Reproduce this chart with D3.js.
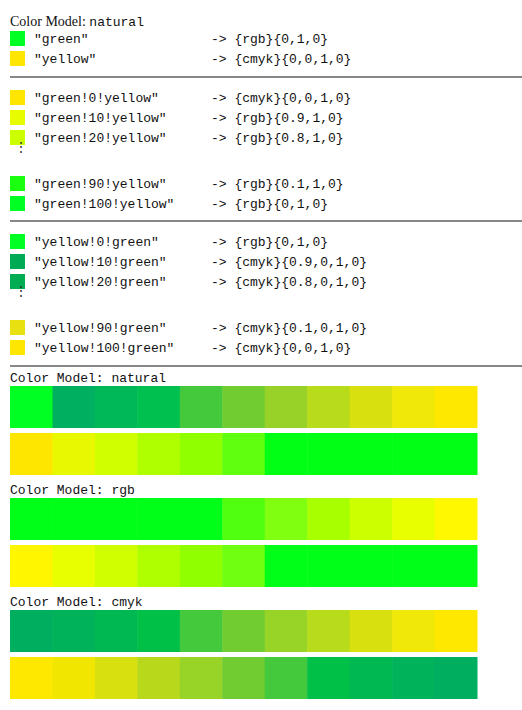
<!DOCTYPE html>
<html><head><meta charset="utf-8">
<script src="https://cdn.jsdelivr.net/npm/d3@7"></script>
<style>body{margin:0;background:#fff}</style>
</head><body>
<svg id="c" width="522" height="710"></svg>
<script>
// top listing: [name, spec, swatch]
const baseRows = [["\"green\"", "{rgb}{0,1,0}", "#00ff22"], ["\"yellow\"", "{cmyk}{0,0,1,0}", "#ffe600"]];
const gyRows = [["\"green!0!yellow\"", "{cmyk}{0,0,1,0}", "#ffe600"], ["\"green!10!yellow\"", "{rgb}{0.9,1,0}", "#e8fc00"],
  ["\"green!20!yellow\"", "{rgb}{0.8,1,0}", "#ccff00"], null,
  ["\"green!90!yellow\"", "{rgb}{0.1,1,0}", "#1aff10"], ["\"green!100!yellow\"", "{rgb}{0,1,0}", "#00ff22"]];
const ygRows = [["\"yellow!0!green\"", "{rgb}{0,1,0}", "#00ff22"], ["\"yellow!10!green\"", "{cmyk}{0.9,0,1,0}", "#00aa55"],
  ["\"yellow!20!green\"", "{cmyk}{0.8,0,1,0}", "#00ad52"], null,
  ["\"yellow!90!green\"", "{cmyk}{0.1,0,1,0}", "#e8e010"], ["\"yellow!100!green\"", "{cmyk}{0,0,1,0}", "#ffe600"]];

const steps = d3.range(11);
const naturalA = ["#00ff22","#00b060","#00b858","#00c050","#44c83c","#70cc30","#98d228","#b8dc1c","#d8e010","#f0e808","#ffe800"];
const naturalB = ["#ffe600","#e8f800","#d0ff00","#b0ff00","#90ff00","#60ff10","#00ff14","#00ff14","#00ff14","#00ff14","#00ff14"];
const rgbA = ["#00ff18","#00ff18","#00ff18","#00ff18","#00ff18","#50ff10","#80ff10","#a8ff00","#ccff00","#e8ff00","#fff800"];
const rgbB = ["#fff600","#e8ff00","#d0ff00","#b0ff00","#90ff00","#70ff10","#00ff18","#00ff18","#00ff18","#00ff18","#00ff18"];
const cmykA = ["#00ae60","#00b25a","#00b852","#00c048","#44c83c","#70cc30","#98d428","#b8dc1c","#d8e010","#f0e808","#ffe800"];
const cmykB = ["#ffe800","#f0e600","#d8e010","#b8d81c","#98d428","#70cc30","#44c83c","#00c048","#00b852","#00b25a","#00ae60"];
const strips = [["natural", naturalA, naturalB], ["rgb", rgbA, rgbB], ["cmyk", cmykA, cmykB]];

const svg = d3.select("#c");
const mono = "'Liberation Mono', 'DejaVu Sans Mono', monospace";
const serif = "'Liberation Serif', 'DejaVu Serif', serif";

const head = svg.append("text").attr("x", 10).attr("y", 26).attr("font-size", 14).attr("fill", "#111");
head.append("tspan").attr("font-family", serif).text("Color Model: ");
head.append("tspan").attr("font-family", mono).attr("font-size", 13).text("natural");

function listing(rows, y0, gap) {
  let y = y0;
  rows.forEach(r => {
    if (r === null) {
      svg.append("text").attr("x", 14).attr("y", y - 6).attr("font-family", serif)
        .attr("font-size", 14).attr("fill", "#333").text("⋮");
      y += gap * 1.3;
      return;
    }
    svg.append("rect").attr("x", 10).attr("y", y - 8).attr("width", 15).attr("height", 15).attr("fill", r[2]);
    svg.append("text").attr("x", 34).attr("y", y + 4).attr("font-family", mono).attr("font-size", 13).attr("fill", "#111").text(r[0]);
    svg.append("text").attr("x", 211).attr("y", y + 4).attr("font-family", mono).attr("font-size", 13).attr("fill", "#111").text("-> " + r[1]);
    y += gap;
  });
}
listing(baseRows, 39, 20);
listing(gyRows, 98, 20);
listing(ygRows, 242, 20);
[77, 221, 366].forEach(y => svg.append("line").attr("x1", 10).attr("x2", 522).attr("y1", y).attr("y2", y).attr("stroke", "#111").attr("stroke-width", 1.2));

const x = d3.scaleBand().domain(steps).range([10, 477]).paddingInner(0);
const tops = [386, 498, 610];
strips.forEach((s, i) => {
  const t = tops[i];
  svg.append("text").attr("x", 10).attr("y", t - 4).attr("font-family", mono).attr("font-size", 13).attr("fill", "#111")
    .text("Color Model:  " + s[0]);
  [s[1], s[2]].forEach((cols, j) => {
    svg.append("g").selectAll("rect").data(steps).join("rect")
      .attr("x", d => x(d)).attr("y", t + j * 47).attr("width", x.bandwidth() + 0.5).attr("height", 42)
      .attr("fill", d => cols[d]);
  });
});
</script>
</body></html>
